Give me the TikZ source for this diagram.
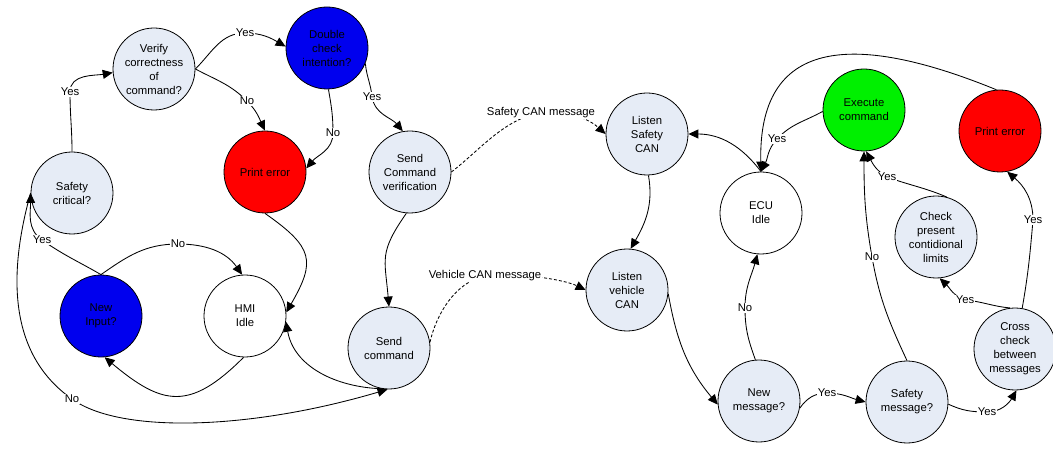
\documentclass[tikz,border=0pt]{standalone}
\usepackage{fontspec}
\setmainfont{Liberation Sans}
\usetikzlibrary{arrows.meta}
\definecolor{paleblue}{HTML}{E6ECF6}
\definecolor{stblue}{HTML}{0000EE}
\definecolor{stred}{HTML}{FF0000}
\definecolor{stgreen}{HTML}{00F000}

\begin{document}
\begin{tikzpicture}[x=1pt,y=1pt,
  state/.style={circle,draw=black,line width=0.8pt,minimum size=82pt,inner sep=0pt,
                align=center,font=\fontsize{11.3}{14}\selectfont},
  pale/.style={state,fill=paleblue},
  idle/.style={state,fill=white},
  bluestate/.style={state,fill=stblue},
  redstate/.style={state,fill=stred},
  greenstate/.style={state,fill=stgreen},
  lbl/.style={fill=white,inner sep=1pt,font=\fontsize{11.3}{13}\selectfont},
  flow/.style={draw=black,line width=0.85pt,-{Triangle[length=10pt,width=9pt]}},
  msg/.style={flow,dash pattern=on 3pt off 2pt}]

\useasboundingbox (0,0) rectangle (1053,-449);

% ---------- HMI side ----------
\node[pale]      (ver)   at (154,-69)  {Verify\\correctness\\of\\command?};
\node[bluestate] (dbl)   at (327,-48)  {Double\\check\\intention?};
\node[redstate]  (perrL) at (265,-172) {Print error};
\node[pale]      (scv)   at (410,-172) {Send\\Command\\verification};
\node[pale]      (safc)  at (72,-193)  {Safety\\critical?};
\node[bluestate] (newin) at (101,-316) {New\\Input?};
\node[idle]      (hmi)   at (245,-316) {HMI\\Idle};
\node[pale]      (sendc) at (389,-348) {Send\\command};

% ---------- ECU side ----------
\node[pale]       (lsafe)  at (647,-134)  {Listen\\Safety\\CAN};
\node[pale]       (lveh)   at (627,-290)  {Listen\\vehicle\\CAN};
\node[greenstate] (exec)   at (864,-110)  {Execute\\command};
\node[redstate]   (perrR)  at (1000,-131) {Print error};
\node[idle]       (ecu)    at (761,-213)  {ECU\\Idle};
\node[pale]       (chk)    at (936,-237)  {Check\\present\\contidional\\limits};
\node[pale]       (cross)  at (1015,-349) {Cross\\check\\between\\messages};
\node[pale]       (newmsg) at (759,-401)  {New\\message?};
\node[pale]       (safmsg) at (907,-402)  {Safety\\message?};

% ---------- HMI transitions ----------
\draw[flow] (safc.north) to[out=90,in=-90] (70,-92) node[lbl]{Yes}
            to[out=90,in=190] (ver.185);
\draw[flow] (ver.east) to[out=45,in=180] (245,-33) node[lbl]{Yes}
            to[out=0,in=150] (dbl.178);
\draw[flow] (ver.east) to[out=-28,in=135] (247,-101) node[lbl]{No}
            to[out=-45,in=115] (perrL.north);
\draw[flow] (dbl.-88) to[out=-80,in=90] (333,-133) node[lbl]{No}
            to[out=-90,in=50] (perrL.5);
\draw[flow] (dbl.-22) to[out=-85,in=95] (372,-97) node[lbl]{Yes}
            to[out=-80,in=130] (scv.100);
\draw[flow] (perrL.south) to[out=-35,in=60,looseness=1.5] (hmi.5);
\draw[flow] (scv.-95) to[out=-125,in=95,looseness=1.3] (sendc.north);
\draw[flow] (sendc.-100) to[out=178,in=-80] (hmi.-8);
\draw[flow] (newin.north) to[out=35,in=180] (178,-244) node[lbl]{No}
            to[out=0,in=125] (hmi.94);
\draw[flow] (hmi.-92) to[out=-135,in=-40,looseness=1.4] (newin.-85);
\draw[flow] (newin.north) to[out=150,in=-35] (42,-240) node[lbl]{Yes}
            to[out=145,in=-90] (safc.west);
\draw[flow] (safc.west) .. controls (12,-260) and (2,-350) .. (72,-399) node[lbl]{No}
            .. controls (120,-434) and (250,-430) .. (sendc.-92);

% ---------- CAN messages ----------
\draw[msg] (scv.east) .. controls (480,-150) and (505,-118) .. (541,-113)
           node[lbl]{Safety CAN message}
           .. controls (570,-110) and (590,-120) .. (lsafe.west);
\draw[msg] (sendc.8) .. controls (436,-315) and (455,-282) .. (485,-276)
           node[lbl]{Vehicle CAN message}
           .. controls (520,-272) and (565,-280) .. (lveh.west);

% ---------- ECU transitions ----------
\draw[flow] (lsafe.-88) to[out=-80,in=60] (lveh.85);
\draw[flow] (lveh.-5) to[out=-80,in=130] (newmsg.-175);
\draw[flow] (newmsg.95) to[out=110,in=-90] (745,-308) node[lbl]{No}
            to[out=90,in=-105] (ecu.-95);
\draw[flow] (newmsg.-10) to[out=55,in=180] (827,-393) node[lbl]{Yes}
            to[out=0,in=165] (safmsg.west);
\draw[flow] (safmsg.north) to[out=115,in=-80] (872,-257) node[lbl]{No}
            to[out=100,in=-90] (exec.south);
\draw[flow] (safmsg.-3) to[out=-25,in=180] (987,-412) node[lbl]{Yes}
            to[out=0,in=-120] (cross.-88);
\draw[flow] (cross.80) to[out=80,in=-95] (1033,-220) node[lbl]{Yes}
            to[out=90,in=-40] (perrR.-80);
\draw[flow] (cross.97) to[out=175,in=-5] (965,-300) node[lbl]{Yes}
            to[out=160,in=-43] (chk.-85);
\draw[flow] (chk.75) to[out=157,in=-20] (887,-177) node[lbl]{Yes}
            to[out=150,in=-62] (exec.-87);
\draw[flow] (exec.182) to[out=209,in=47] (777,-139) node[lbl]{Yes}
            to[out=-133,in=62] (ecu.north);
\draw[flow] (perrR.95) .. controls (850,-30) and (758,-40) .. (ecu.north);
\draw[flow] (ecu.north) to[out=127,in=0] (lsafe.east);
\end{tikzpicture}
\end{document}
